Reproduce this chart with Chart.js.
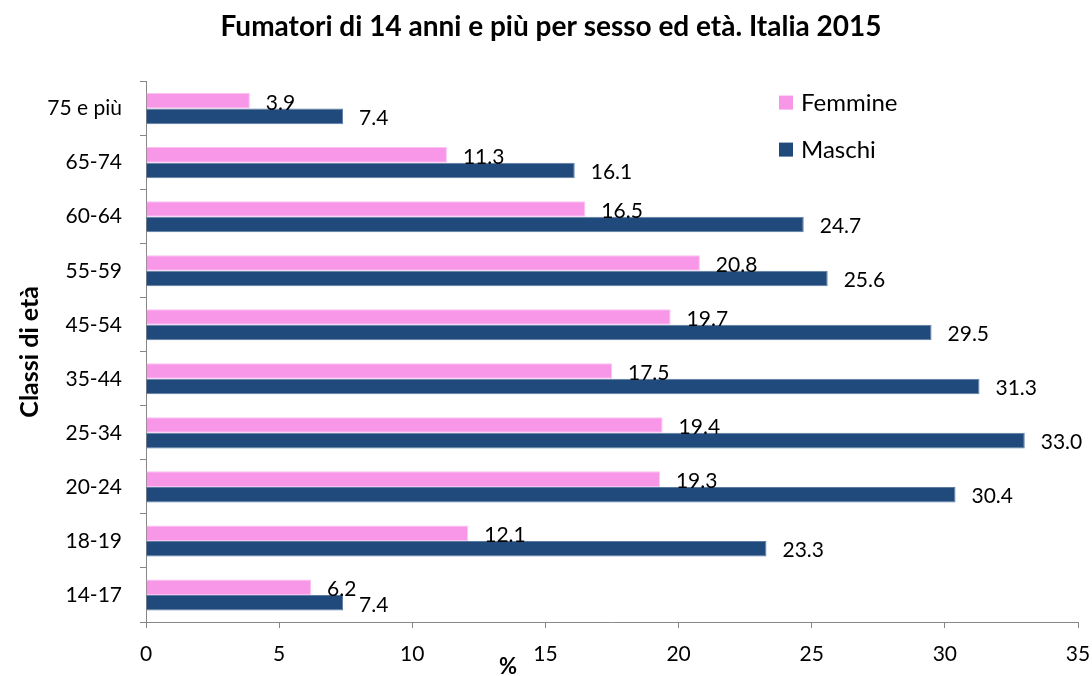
<!DOCTYPE html>
<html>
<head>
<meta charset="utf-8">
<script src="https://cdn.jsdelivr.net/npm/chart.js@4"></script>
<style>
  html, body { margin: 0; padding: 0; background: #fff; }
  canvas { display: block; }
</style>
</head>
<body>
<canvas id="barChart" width="1092" height="676"></canvas>
<script>
// dati
const classi = ["75 e più", "65-74", "60-64", "55-59", "45-54", "35-44", "25-34", "20-24", "18-19", "14-17"];
const femmine = [3.9, 11.3, 16.5, 20.8, 19.7, 17.5, 19.4, 19.3, 12.1, 6.2];
const maschi = [7.4, 16.1, 24.7, 25.6, 29.5, 31.3, 33.0, 30.4, 23.3, 7.4];
const xTicks = [0, 5, 10, 15, 20, 25, 30, 35];

const FONT = "Lato, 'Open Sans', sans-serif";
const AXIS_GREY = "#878787";

// etichette con i valori accanto alle barre
const valueLabels = {
  id: "valueLabels",
  afterDatasetsDraw(chart) {
    const ctx = chart.ctx;
    ctx.save();
    ctx.font = "21px " + FONT;
    ctx.fillStyle = "#000";
    ctx.textAlign = "left";
    ctx.textBaseline = "middle";
    chart.data.datasets.forEach((ds, i) => {
      chart.getDatasetMeta(i).data.forEach((bar, j) => {
        ctx.fillText(ds.data[j].toFixed(1), bar.x + 16, bar.y + 2);
      });
    });
    ctx.restore();
  },
};

// legenda dentro l'area del grafico e titolo asse x
const extras = {
  id: "extras",
  afterDraw(chart) {
    const ctx = chart.ctx;
    const area = chart.chartArea;
    ctx.save();
    ctx.textBaseline = "middle";
    ctx.textAlign = "left";
    ctx.font = "24px " + FONT;
    chart.data.datasets.forEach((ds, i) => {
      const y = area.top + 21 + i * 47;
      ctx.fillStyle = ds.backgroundColor;
      ctx.fillRect(area.left + 633, y - 7, 14, 14);
      ctx.fillStyle = "#000";
      ctx.fillText(ds.label, area.left + 655, y + 1);
    });
    ctx.font = "bold 22px " + FONT;
    ctx.textAlign = "center";
    ctx.fillText("%", area.left + 362, chart.height - 9);
    ctx.restore();
  },
};

const ctx = document.getElementById("barChart").getContext("2d");
new Chart(ctx, {
  type: "bar",
  data: {
    labels: classi,
    datasets: [
      {
        label: "Femmine",
        data: femmine,
        backgroundColor: "#F896E8",
        borderColor: "#FBC2F1",
        borderWidth: 1,
        categoryPercentage: 0.575,
        barPercentage: 1,
      },
      {
        label: "Maschi",
        data: maschi,
        backgroundColor: "#214A7C",
        borderColor: "#5C7BA3",
        borderWidth: 1,
        categoryPercentage: 0.575,
        barPercentage: 1,
      },
    ],
  },
  options: {
    indexAxis: "y",
    responsive: false,
    animation: false,
    devicePixelRatio: 1,
    layout: { padding: { top: 0, right: 14, bottom: 0, left: 24 } },
    plugins: {
      legend: { display: false },
      tooltip: { enabled: false },
      title: {
        display: true,
        text: "Fumatori di 14 anni e più per sesso ed età. Italia 2015",
        color: "#000",
        font: { family: FONT, size: 28, weight: "bold" },
        padding: { top: 10, bottom: 38 },
      },
    },
    scales: {
      x: {
        min: 0,
        max: 35,
        afterBuildTicks: (scale) => {
          scale.ticks = xTicks.map((v) => ({ value: v }));
        },
        afterFit: (scale) => {
          scale.height = 54;
          scale.paddingRight = 0;
          scale.paddingLeft = 0;
        },
        grid: { drawOnChartArea: false, drawTicks: true, tickLength: 6, color: AXIS_GREY },
        border: { color: AXIS_GREY, width: 1 },
        ticks: { color: "#000", padding: 14, font: { family: FONT, size: 21 }, maxRotation: 0 },
      },
      y: {
        afterFit: (scale) => {
          scale.width = 122;
        },
        grid: { offset: true, drawOnChartArea: false, drawTicks: true, tickLength: 6, color: AXIS_GREY },
        border: { color: AXIS_GREY, width: 1 },
        ticks: { color: "#000", padding: 18, font: { family: FONT, size: 21 } },
        title: {
          display: true,
          text: "Classi di età",
          color: "#000",
          font: { family: FONT, size: 25, weight: "bold" },
          padding: { top: -9, bottom: 0 },
        },
      },
    },
  },
  plugins: [valueLabels, extras],
});
</script>
</body>
</html>
